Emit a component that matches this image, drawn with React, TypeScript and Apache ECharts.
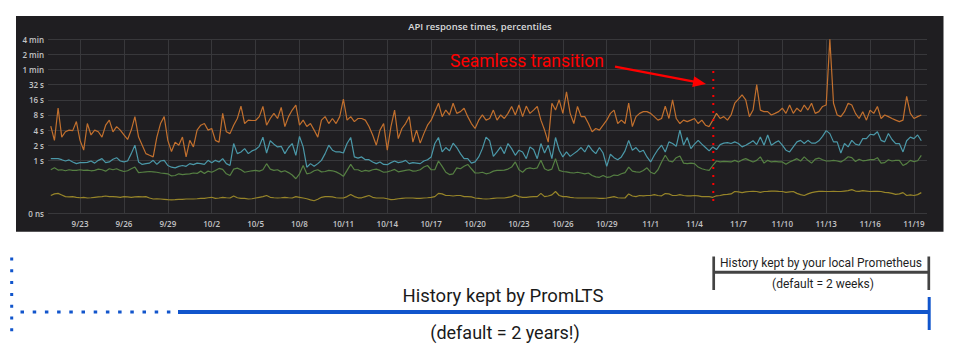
import React, { useEffect, useRef } from "react";
import * as echarts from "echarts";

// ---- time base: day 0 = 2017-09-20 (UTC); samples every 6 h from 9/21 00:00
const ORIGIN_UTC = Date.UTC(2017, 8, 20);
const FIRST_DAY = 1;
const STEP_DAYS = 0.25;
const X_MIN_DAY = 0.81;
const X_MAX_DAY = 60.89;

// ---- y axis (log2 of seconds)
const yTickValues = [-3.5, 0, 1, 2, 3, 4, 5, 6, 7, 8];
const yTickLabels = ["0 ns", "1 s", "2 s", "4 s", "8 s", "16 s", "32 s", "1 min", "2 min", "4 min"];

// ---- series values, seconds
const p99 = [
  4.8, 2.5, 11, 2.9, 3.7, 4.0, 3.9, 5.9, 2.5, 1.6,
  5.4, 3.2, 4.0, 3.7, 2.9, 5.0, 6.3, 3.7, 4.7, 4.0,
  3.2, 2.6, 4.0, 7.4, 2.9, 2.0, 1.36, 1.26, 1.17, 2.9,
  5.4, 7.4, 2.5, 1.5, 2.3, 2.0, 2.9, 1.17, 2.5, 1.85,
  4.0, 5.0, 5.4, 4.0, 4.3, 2.5, 2.3, 8.6, 3.7, 3.4,
  5.0, 6.8, 12, 5.4, 6.3, 6.2, 6.2, 7.4, 11.8, 5.0,
  6.8, 8.6, 6.8, 11.3, 4.7, 7.4, 10, 12.6, 5.0, 6.3,
  4.7, 5.4, 4.0, 2.9,
  6.3, 7.4, 5.4, 6.8, 5.4, 7.4, 16.5, 6.3, 7.4, 5.9,
  6.8, 6.8, 6.3, 4.7, 3.2, 2.0, 4.0, 5.4, 1.6, 4.7,
  10, 2.7, 4.3, 5.4, 7.4, 2.3, 4.0, 2.2, 3.4, 5.0,
  6.3, 9.3, 13.7, 7.4, 10, 8, 13.7, 8.6, 9.3, 10.9,
  7.4, 5.4, 4.3, 6.3, 8, 6.3, 6.8, 10, 6.3, 8,
  6.8, 8.6, 11.8, 8, 12.6, 7.4, 12, 8.6, 10, 11.8,
  6.3, 4.0, 2.3, 13.7, 10, 16, 8.6, 23, 8.6, 5.4,
  11.8, 7.4, 7.4, 5.4, 3.7, 4.3, 4.0, 5.0, 6.3, 8.6,
  10, 5.4, 6.3, 5.4, 13.7, 4.7, 7.4,
  8.6, 9.3, 9.3, 8.6, 7.4, 6.3, 6.8, 12, 6.8, 16,
  6.8, 5.4, 6.3, 5.9, 6.3, 6.8, 5.4, 6.3, 5.0, 4.7,
  6.3, 8.6, 6.8, 7.4, 6.3, 8, 13.7, 16.5, 20, 16,
  7.4, 10, 32, 10, 9.3, 9.3, 8, 8.6, 9.3, 10.9,
  8.6, 12.6, 8.6, 10.9, 9.3, 12.6, 10, 13.7, 8.6, 9.3,
  11.8, 12.6, 256, 13.7, 8, 7.4, 9.3, 13.7, 12.6, 8.6,
  6.8, 9.3, 6.3, 10, 8.6, 11.8, 6.8, 8, 7.4, 6.8,
  6.3, 5.9, 6.3, 18.7, 8.6, 6.8, 7.4, 8,
];

const p95 = [
  1.08, 1.08, 1.08, 1.03, 0.97, 1.02, 0.93, 0.86, 0.9, 0.9,
  0.91, 0.97, 0.88, 1.0, 1.08, 0.9, 0.93, 1.05, 1.13, 0.97,
  0.93, 0.97, 1.36, 2.0, 0.93, 0.83, 0.86, 0.88, 1.0, 0.83,
  0.97, 1.0, 0.79, 0.73, 0.71, 0.76, 0.79, 0.76, 0.86, 0.82,
  0.88, 0.86, 0.83, 1.0, 0.9, 1.0, 0.93, 1.08, 0.86, 0.79,
  2.16, 1.36, 1.47, 1.71, 1.36, 1.54, 1.64, 1.9, 2.9, 1.4,
  2.45, 2.1, 1.85, 1.9, 1.36, 1.8, 2.16, 1.26, 3.0, 1.85,
  0.73, 0.86, 0.76, 0.86,
  1.0, 1.36, 2.0, 1.59, 1.47, 1.47, 1.4, 2.16, 2.85, 1.17,
  1.11, 1.17, 1.03, 1.03, 0.93, 0.86, 0.93, 0.83, 0.82, 0.9,
  0.97, 0.9, 0.93, 1.0, 0.86, 0.9, 0.88, 0.86, 0.97, 1.03,
  1.17, 2.16, 2.85, 1.47, 1.8, 1.54, 2.2, 1.8, 1.36, 1.08,
  1.08, 0.88, 0.93, 1.17, 1.71, 2.9, 2.45, 1.2, 1.47, 1.85,
  1.36, 2.16, 1.71, 1.26, 1.59, 1.47, 1.08, 1.85, 1.64, 1.08,
  2.16, 1.4, 2.0, 1.08, 2.85, 1.59, 1.17, 1.47, 1.2, 1.36,
  1.54, 1.8, 1.47, 2.0, 1.59, 1.36, 1.8, 1.4, 0.76, 1.32,
  1.13, 1.03, 1.17, 1.54, 2.5, 1.59, 1.8,
  1.47, 1.59, 1.17, 0.93, 1.26, 1.64, 2.0, 1.47, 2.33, 2.16,
  1.9, 4.0, 2.0, 2.85, 1.71, 2.1, 2.5, 2.1, 1.8, 1.54,
  1.85, 1.64, 2.06, 2.2, 2.25, 2.16, 2.33, 2.16, 1.85, 2.0,
  2.2, 2.45, 2.06, 2.9, 2.0, 3.2, 2.0, 2.25, 2.45, 2.0,
  1.59, 1.47, 1.85, 2.33, 2.5, 2.16, 2.5, 2.2, 2.2, 2.45,
  3.0, 3.9, 3.4, 2.33, 2.33, 1.4, 2.16, 1.85, 2.5, 2.1,
  2.0, 2.7, 2.7, 3.3, 3.2, 3.7, 2.5, 2.33, 3.43, 2.6,
  2.16, 2.16, 1.47, 2.45, 2.9, 2.7, 3.2, 2.45,
];

const p90 = [
  0.65, 0.71, 0.64, 0.65, 0.62, 0.65, 0.63, 0.63, 0.65, 0.63,
  0.64, 0.62, 0.63, 0.67, 0.65, 0.61, 0.68, 0.65, 0.68, 0.63,
  0.6, 0.62, 0.68, 0.735, 0.57, 0.58, 0.59, 0.6, 0.59, 0.58,
  0.56, 0.55, 0.54, 0.49, 0.5, 0.54, 0.52, 0.53, 0.54, 0.56,
  0.55, 0.61, 0.55, 0.61, 0.58, 0.63, 0.69, 0.66, 0.54, 0.5,
  0.67, 0.7, 0.65, 0.58, 0.6, 0.62, 0.63, 0.61, 0.65, 0.857,
  0.67, 0.63, 0.65, 0.59, 0.62, 0.57, 0.51, 0.43, 0.54, 0.79,
  0.54, 0.56, 0.62, 0.65,
  0.59, 0.6, 0.63, 0.62, 0.59, 0.54, 0.48, 0.63, 0.83, 0.65,
  0.65, 0.6, 0.63, 0.61, 0.65, 0.67, 0.63, 0.58, 0.59, 0.62,
  0.66, 0.59, 0.61, 0.63, 0.65, 0.61, 0.62, 0.65, 0.735, 0.79,
  0.65, 0.65, 0.97, 0.76, 0.58, 0.52, 0.54, 0.71, 0.68, 0.76,
  0.83, 0.68, 0.56, 0.56, 0.58, 0.54, 0.56, 0.61, 0.63, 0.63,
  0.64, 0.67, 0.735, 0.93, 0.65, 0.58, 0.68, 0.71, 0.68, 0.71,
  1.0, 0.68, 0.63, 0.67, 1.08, 0.63, 0.6, 0.59, 0.57, 0.56,
  0.58, 0.56, 0.54, 0.56, 0.5, 0.47, 0.46, 0.5, 0.46, 0.47,
  0.51, 0.5, 0.54, 0.57, 0.735, 0.61, 0.59,
  0.58, 0.63, 0.71, 0.58, 0.54, 0.65, 0.93, 1.26, 0.97, 0.93,
  1.13, 1.22, 0.88, 0.86, 0.88, 0.86, 0.735, 0.68, 0.65, 0.63,
  0.79, 0.97, 0.93, 0.95, 0.94, 0.93, 1.0, 0.93, 1.02, 1.08,
  1.0, 0.93, 1.0, 1.17, 0.88, 1.0, 0.93, 0.95, 0.93, 0.93,
  0.84, 0.93, 1.0, 1.08, 0.97, 1.17, 1.0, 0.88, 1.06, 1.11,
  1.03, 0.97, 0.97, 1.0, 0.97, 0.93, 1.03, 1.18, 1.13, 0.95,
  1.05, 0.98, 1.0, 1.03, 1.03, 1.13, 0.88, 0.9, 1.03, 0.97,
  1.0, 1.0, 0.79, 0.86, 1.0, 0.94, 0.98, 1.26,
];

const p50 = [
  0.2, 0.215, 0.22, 0.205, 0.19, 0.187, 0.19, 0.184, 0.18, 0.184,
  0.178, 0.18, 0.184, 0.187, 0.19, 0.195, 0.19, 0.19, 0.187, 0.184,
  0.19, 0.187, 0.184, 0.187, 0.19, 0.187, 0.19, 0.178, 0.17, 0.172,
  0.17, 0.168, 0.165, 0.163, 0.165, 0.168, 0.168, 0.17, 0.17, 0.17,
  0.172, 0.175, 0.175, 0.18, 0.184, 0.175, 0.178, 0.184, 0.18, 0.178,
  0.195, 0.18, 0.175, 0.175, 0.17, 0.172, 0.178, 0.184, 0.19, 0.2,
  0.184, 0.18, 0.178, 0.18, 0.184, 0.18, 0.178, 0.19, 0.184, 0.178,
  0.172, 0.163, 0.157, 0.168,
  0.184, 0.19, 0.19, 0.187, 0.18, 0.178, 0.178, 0.19, 0.21, 0.19,
  0.18, 0.18, 0.19, 0.2, 0.184, 0.178, 0.178, 0.178, 0.172, 0.165,
  0.168, 0.172, 0.175, 0.178, 0.178, 0.178, 0.175, 0.175, 0.178, 0.18,
  0.184, 0.19, 0.22, 0.215, 0.2, 0.2, 0.195, 0.2, 0.2, 0.19,
  0.19, 0.187, 0.178, 0.175, 0.172, 0.17, 0.172, 0.175, 0.178, 0.178,
  0.178, 0.184, 0.19, 0.205, 0.19, 0.184, 0.184, 0.187, 0.19, 0.19,
  0.22, 0.19, 0.195, 0.205, 0.24, 0.2, 0.19, 0.19, 0.184, 0.18,
  0.178, 0.178, 0.178, 0.178, 0.178, 0.178, 0.175, 0.175, 0.178, 0.184,
  0.19, 0.18, 0.178, 0.178, 0.215, 0.195, 0.19,
  0.2, 0.197, 0.2, 0.2, 0.208, 0.2, 0.197, 0.218, 0.215, 0.2,
  0.2, 0.208, 0.2, 0.197, 0.197, 0.2, 0.197, 0.19, 0.19, 0.19,
  0.184, 0.197, 0.2, 0.208, 0.21, 0.215, 0.24, 0.235, 0.228, 0.235,
  0.24, 0.242, 0.24, 0.23, 0.24, 0.242, 0.245, 0.245, 0.242, 0.24,
  0.23, 0.235, 0.24, 0.22, 0.208, 0.2, 0.215, 0.228, 0.235, 0.242,
  0.242, 0.24, 0.24, 0.242, 0.24, 0.24, 0.245, 0.25, 0.262, 0.245,
  0.242, 0.25, 0.245, 0.24, 0.242, 0.242, 0.24, 0.23, 0.228, 0.22,
  0.21, 0.215, 0.228, 0.2, 0.205, 0.2, 0.208, 0.228,
];

const seriesNames = ["p50", "p90", "p95", "p99"];
const seriesColors = ["#978529", "#568043", "#4b98a8", "#c2702e"];

const PANEL_BG = "#1f1e21";
const GRID_COLOR = "#38383b";
const LABEL_COLOR = "#c4c4c6";

function toPoints(vals: number[]) {
  return vals.map((s, i) => [FIRST_DAY + i * STEP_DAYS, Math.log2(s)]);
}

function dayLabel(v: number) {
  const d = new Date(ORIGIN_UTC + v * 86400000);
  return `${d.getUTCMonth() + 1}/${d.getUTCDate()}`;
}

export default function App() {
  const ref = useRef<HTMLDivElement>(null);

  useEffect(() => {
    if (!ref.current) return;
    const chart = echarts.init(ref.current, undefined, { renderer: "svg" });
    const allVals = [p50, p90, p95, p99];

    const dataSeries = allVals.map((vals, idx) => ({
      name: seriesNames[idx],
      type: "line",
      data: toPoints(vals),
      showSymbol: false,
      symbol: "none",
      silent: true,
      z: 2,
      lineStyle: { color: seriesColors[idx], width: 1.2 },
      itemStyle: { color: seriesColors[idx] },
    }));

    const blue = "#1155cc";
    const red = "#ff0000";
    const dark = "#434343";

    chart.setOption({
      animation: false,
      backgroundColor: "#ffffff",
      grid: { left: 48, right: 33, top: 39.3, bottom: 140.7, containLabel: false },
      xAxis: {
        type: "value",
        min: X_MIN_DAY,
        max: X_MAX_DAY,
        splitNumber: 20,
        axisLine: { show: false },
        axisTick: { show: false },
        axisLabel: {
          color: LABEL_COLOR,
          fontSize: 8,
          fontWeight: 600,
          fontFamily: "Open Sans",
          margin: 6,
          showMinLabel: false,
          showMaxLabel: false,
          formatter: (v: number) => dayLabel(v),
        },
        splitLine: {
          show: true,
          showMinLine: false,
          showMaxLine: false,
          lineStyle: { color: GRID_COLOR, width: 1 },
        },
      },
      yAxis: {
        type: "value",
        min: -3.5,
        max: 8,
        interval: 0.5,
        axisLine: { show: false },
        axisTick: { show: false },
        splitLine: { show: false },
        axisLabel: {
          color: LABEL_COLOR,
          fontSize: 8,
          fontWeight: 600,
          fontFamily: "Open Sans",
          margin: 4,
          formatter: (v: number) => {
            const i = yTickValues.findIndex((t) => Math.abs(t - v) < 1e-6);
            return i >= 0 ? yTickLabels[i] : "";
          },
        },
      },
      series: [
        {
          name: "grid",
          type: "line",
          data: [],
          silent: true,
          z: 1,
          markLine: {
            silent: true,
            z: 1,
            symbol: ["none", "none"],
            label: { show: false },
            lineStyle: { color: GRID_COLOR, width: 1, type: "solid" },
            emphasis: { disabled: true },
            data: yTickValues.map((v) => ({ yAxis: v })),
          },
        },
        ...dataSeries,
      ],
      graphic: [
        {
          type: "rect",
          silent: true,
          z: -10,
          shape: { x: 16, y: 16, width: 927.5, height: 215.7 },
          style: { fill: PANEL_BG },
        },
        {
          type: "text",
          z: 10,
          x: 480,
          y: 26.5,
          style: {
            text: "API response times, percentiles",
            fill: "#d8d9da",
            fontSize: 9.5,
            fontWeight: 600,
            fontFamily: "Open Sans",
            align: "center",
            verticalAlign: "middle",
          },
        },
        // seamless transition annotation
        {
          type: "text",
          z: 10,
          x: 527,
          y: 60.5,
          style: {
            text: "Seamless transition",
            fill: red,
            fontSize: 17.5,
            fontFamily: "Roboto",
            align: "center",
            verticalAlign: "middle",
          },
        },
        {
          type: "line",
          z: 10,
          shape: { x1: 615, y1: 66.7, x2: 694, y2: 81.7 },
          style: { stroke: red, lineWidth: 2.2 },
        },
        {
          type: "polygon",
          z: 10,
          shape: { points: [[706, 84], [694.2, 76.2], [692.2, 87]] },
          style: { fill: red },
        },
        {
          type: "line",
          z: 10,
          shape: { x1: 713.3, y1: 71, x2: 713.3, y2: 202 },
          style: { stroke: red, lineWidth: 2, lineDash: [2, 6] },
        },
        // local Prometheus bracket
        {
          type: "line",
          shape: { x1: 713.5, y1: 272.3, x2: 929, y2: 272.3 },
          style: { stroke: dark, lineWidth: 3 },
        },
        {
          type: "line",
          shape: { x1: 713.7, y1: 256.5, x2: 713.7, y2: 290 },
          style: { stroke: dark, lineWidth: 2.7 },
        },
        {
          type: "line",
          shape: { x1: 928.8, y1: 256.5, x2: 928.8, y2: 290 },
          style: { stroke: dark, lineWidth: 2.7 },
        },
        {
          type: "text",
          x: 821,
          y: 262.5,
          style: {
            text: "History kept by your local Prometheus",
            fill: "#1f1f1f",
            fontSize: 12,
            fontFamily: "Roboto",
            align: "center",
            verticalAlign: "middle",
          },
        },
        {
          type: "text",
          x: 823,
          y: 283.5,
          style: {
            text: "(default = 2 weeks)",
            fill: "#1f1f1f",
            fontSize: 12,
            fontFamily: "Roboto",
            align: "center",
            verticalAlign: "middle",
          },
        },
        // PromLTS bracket
        {
          type: "line",
          shape: { x1: 11.7, y1: 257.5, x2: 11.7, y2: 334 },
          style: { stroke: blue, lineWidth: 3, lineDash: [3, 8.8] },
        },
        {
          type: "line",
          shape: { x1: 20.5, y1: 312, x2: 171, y2: 312 },
          style: { stroke: blue, lineWidth: 3, lineDash: [3.5, 8.7] },
        },
        {
          type: "line",
          shape: { x1: 178, y1: 312, x2: 929, y2: 312 },
          style: { stroke: blue, lineWidth: 3.8 },
        },
        {
          type: "line",
          shape: { x1: 929.2, y1: 297, x2: 929.2, y2: 330 },
          style: { stroke: blue, lineWidth: 3 },
        },
        {
          type: "text",
          x: 503,
          y: 296,
          style: {
            text: "History kept by PromLTS",
            fill: "#1a1a1a",
            fontSize: 18.5,
            fontFamily: "Roboto",
            align: "center",
            verticalAlign: "middle",
          },
        },
        {
          type: "text",
          x: 505,
          y: 332,
          style: {
            text: "(default = 2 years!)",
            fill: "#1a1a1a",
            fontSize: 18,
            fontFamily: "Roboto",
            align: "center",
            verticalAlign: "middle",
          },
        },
      ],
    });

    return () => chart.dispose();
  }, []);

  return (
    <div
      ref={ref}
      style={{ position: "absolute", left: 0, top: 0, width: 960, height: 354 }}
    />
  );
}
